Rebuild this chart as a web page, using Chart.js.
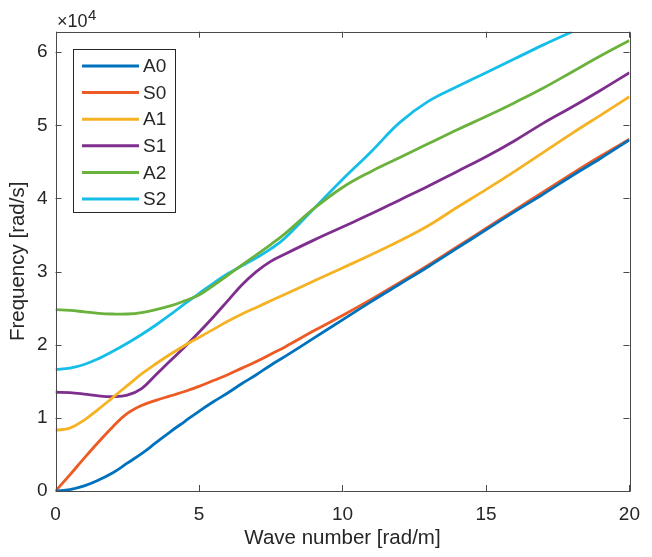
<!DOCTYPE html>
<html>
<head>
<meta charset="utf-8">
<script src="https://cdn.jsdelivr.net/npm/chart.js@4.4.1/dist/chart.umd.min.js"></script>
<style>
  body { margin: 0; background: #fff; }
  canvas { display: block; }
</style>
</head>
<body>
<canvas id="dispChart" width="652" height="557"></canvas>
<script>
// wave number samples [rad/m]
const waveNumber = [0, 0.5, 1, 1.5, 2, 2.5, 3, 3.5, 4, 4.5, 5, 5.5, 6, 6.5, 7, 7.5, 8, 9, 10, 11, 12, 13, 14, 15, 16, 17, 18, 19, 20];

// frequency [rad/s] per mode
const A0 = [0, 200, 700, 1500, 2500, 3800, 5100, 6600, 8100, 9500, 10900, 12200, 13400, 14700, 15900, 17200, 18400, 20900, 23400, 25900, 28300, 30700, 33200, 35700, 38200, 40600, 43100, 45500, 48000];
const S0 = [0, 2200, 4500, 6700, 8800, 10600, 11700, 12400, 13000, 13600, 14300, 15100, 15900, 16800, 17700, 18700, 19700, 21900, 24000, 26200, 28500, 30900, 33400, 35900, 38400, 40900, 43400, 45800, 48100];
const A1 = [8300, 8600, 9700, 11200, 12800, 14400, 16000, 17400, 18700, 19900, 21000, 22100, 23200, 24200, 25100, 26000, 26900, 28700, 30500, 32300, 34200, 36300, 38800, 41200, 43700, 46300, 48900, 51400, 53900];
const S1 = [13500, 13450, 13250, 13000, 12900, 13100, 14000, 15900, 17800, 19700, 21700, 23800, 26000, 28200, 30000, 31400, 32400, 34300, 36100, 37900, 39800, 41700, 43700, 45700, 47900, 50300, 52500, 54800, 57200];
const A2 = [24800, 24700, 24500, 24300, 24200, 24200, 24400, 24800, 25300, 26000, 26800, 28100, 29500, 30900, 32300, 33700, 35200, 38600, 41500, 43700, 45600, 47500, 49400, 51200, 53100, 55100, 57300, 59500, 61600];
const S2 = [16600, 16800, 17300, 18100, 19100, 20200, 21400, 22700, 24100, 25600, 27000, 28400, 29700, 30800, 31900, 33100, 34600, 38600, 42600, 46400, 50400, 53300, 55300, 57200, 59100, 61000, 62800];

const modeNames = ['A0', 'S0', 'A1', 'S1', 'A2', 'S2'];
const modeValues = [A0, S0, A1, S1, A2, S2];
const modeColors = ['#0072BD', '#EE5A24', '#F5B223', '#7E2F8E', '#6AB23C', '#14BEE8'];

// axis ticks
const xTicks = [0, 5, 10, 15, 20];
const yTicks = [0, 10000, 20000, 30000, 40000, 50000, 60000];

const FONT = '"Liberation Sans", Arial, Helvetica, sans-serif';
const INK = '#262626';

function toPoints(vals) {
    return vals.map((v, i) => ({ x: waveNumber[i], y: v }));
}

// box, inward ticks, x10^4 and legend drawn like matlab
const matlabAxes = {
    id: 'matlabAxes',
    afterDatasetsDraw(chart) {
        const ctx = chart.ctx;
        const a = chart.chartArea;
        const xs = chart.scales.x, ys = chart.scales.y;
        const tl = 6;
        ctx.save();
        ctx.strokeStyle = '#4a4a4a';
        ctx.lineWidth = 1;
        ctx.beginPath();
        ctx.rect(Math.round(a.left) + 0.5, Math.round(a.top) + 0.5, Math.round(a.right - a.left), Math.round(a.bottom - a.top));
        ctx.stroke();
        ctx.beginPath();
        xs.ticks.forEach(t => {
            const px = Math.round(xs.getPixelForValue(t.value)) + 0.5;
            ctx.moveTo(px, a.bottom); ctx.lineTo(px, a.bottom - tl);
            ctx.moveTo(px, a.top); ctx.lineTo(px, a.top + tl);
        });
        ys.ticks.forEach(t => {
            const py = Math.round(ys.getPixelForValue(t.value)) + 0.5;
            ctx.moveTo(a.left, py); ctx.lineTo(a.left + tl, py);
            ctx.moveTo(a.right, py); ctx.lineTo(a.right - tl, py);
        });
        ctx.stroke();

        // exponent label
        ctx.fillStyle = INK;
        ctx.textBaseline = 'alphabetic';
        ctx.textAlign = 'left';
        ctx.font = '18px ' + FONT;
        ctx.fillText('\u00d710', 57, 27);
        ctx.font = '15px ' + FONT;
        ctx.fillText('4', 88, 20);

        // legend
        const lx = 73, ly = 49, lw = 102, lh = 163;
        ctx.fillStyle = '#fff';
        ctx.fillRect(lx, ly, lw, lh);
        ctx.strokeStyle = '#262626';
        ctx.strokeRect(lx + 0.5, ly + 0.5, lw, lh);
        ctx.font = '19px ' + FONT;
        ctx.textBaseline = 'middle';
        chart.data.datasets.forEach((ds, i) => {
            const y = 66 + i * 26.6;
            ctx.strokeStyle = ds.borderColor;
            ctx.lineWidth = 3;
            ctx.beginPath();
            ctx.moveTo(82, y); ctx.lineTo(139, y);
            ctx.stroke();
            ctx.fillStyle = INK;
            ctx.fillText(ds.label, 143, y + 1);
        });
        ctx.restore();
    }
};

const ctx = document.getElementById('dispChart').getContext('2d');

const chart = new Chart(ctx, {
    type: 'line',
    data: {
        datasets: modeNames.map((name, i) => ({
            label: name,
            data: toPoints(modeValues[i]),
            borderColor: modeColors[i],
            backgroundColor: modeColors[i],
            borderWidth: 2.8,
            pointRadius: 0,
            tension: 0.4,
            fill: false
        }))
    },
    options: {
        responsive: false,
        animation: false,
        devicePixelRatio: 1,
        layout: { padding: { left: 0, right: 15.3, top: 31.7, bottom: 0 } },
        plugins: {
            legend: { display: false },
            tooltip: { enabled: false }
        },
        scales: {
            x: {
                type: 'linear',
                min: 0,
                max: 20,
                grid: { display: false, drawTicks: false },
                border: { display: false },
                ticks: { padding: 12, color: INK, font: { size: 19, family: FONT } },
                afterBuildTicks(scale) { scale.ticks = xTicks.map(v => ({ value: v })); },
                title: {
                    display: true,
                    text: 'Wave number [rad/m]',
                    color: INK,
                    font: { size: 20.5, family: FONT },
                    padding: { top: 0, bottom: 6.5 }
                },
                afterFit(scale) { scale.height = 66; }
            },
            y: {
                min: 0,
                max: 62800,
                grid: { display: false, drawTicks: false },
                border: { display: false },
                ticks: {
                    padding: 8,
                    color: INK,
                    font: { size: 19, family: FONT },
                    callback: v => String(v / 10000)
                },
                afterBuildTicks(scale) { scale.ticks = yTicks.map(v => ({ value: v })); },
                title: {
                    display: true,
                    text: 'Frequency [rad/s]',
                    color: INK,
                    font: { size: 20.5, family: FONT },
                    padding: { top: 6.5, bottom: 0 }
                },
                afterFit(scale) { scale.width = 55.5; }
            }
        }
    },
    plugins: [matlabAxes]
});
</script>
</body>
</html>
